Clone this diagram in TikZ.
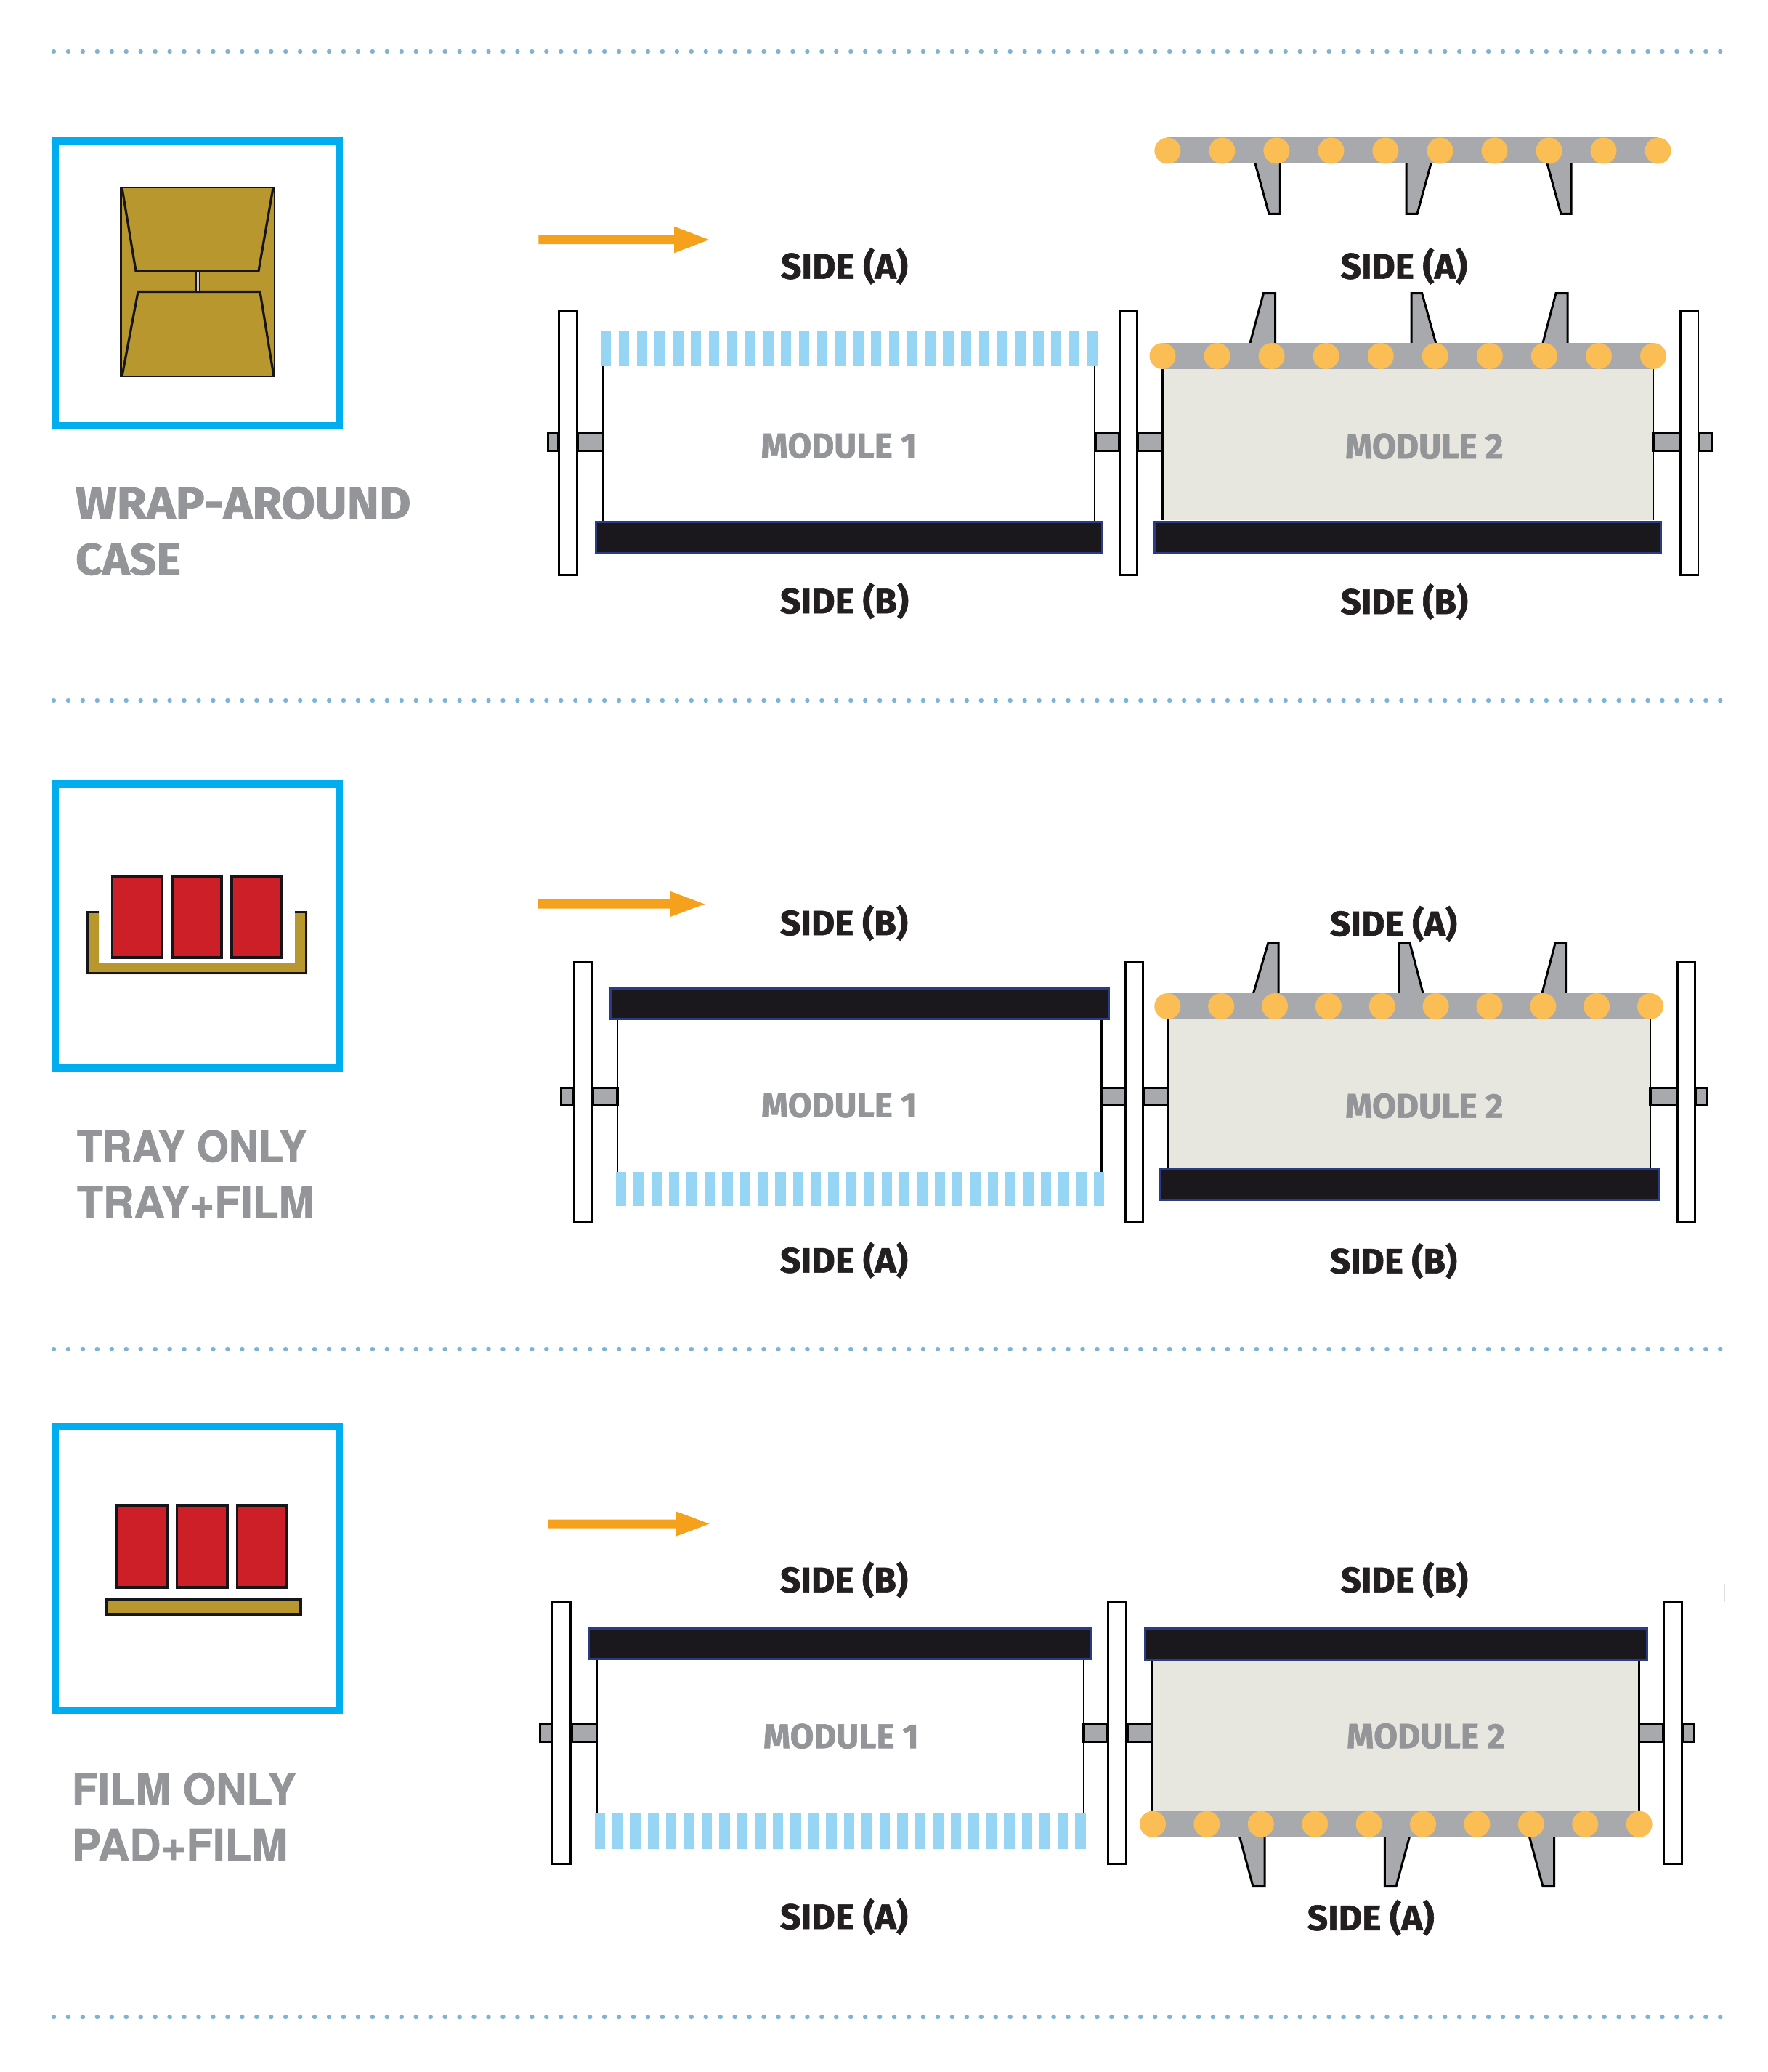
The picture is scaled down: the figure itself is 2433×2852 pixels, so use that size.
\documentclass[tikz,border=0pt]{standalone}
\usepackage{fontspec}
\usepackage{graphicx}
\newfontfamily\firaf{Fira Sans}[BoldFeatures={FakeBold=1.2}]
\newfontfamily\herosf{TeX Gyre Heros}[BoldFeatures={FakeBold=1.2}]
\definecolor{cbox}{HTML}{00AEEF}
\definecolor{cgold}{HTML}{B8972E}
\definecolor{cred}{HTML}{CC1F28}
\definecolor{cink}{HTML}{15151A}
\definecolor{cbar}{HTML}{A7A9AC}
\definecolor{cdisc}{HTML}{FABE55}
\definecolor{cmod}{HTML}{E7E6DF}
\definecolor{cfilm}{HTML}{96D5F3}
\definecolor{cbelt}{HTML}{1A181C}
\definecolor{cnavy}{HTML}{2A3C84}
\definecolor{cflow}{HTML}{F5A11C}
\definecolor{cgrey}{HTML}{939598}
\definecolor{cdark}{HTML}{231F20}
\definecolor{cdots}{HTML}{7FB3D5}
\tikzset{
  iconbox/.style={draw=cbox,line width=10pt,fill=white},
  platest/.style={draw=black,line width=2.8pt,fill=white},
  shaftst/.style={draw=black,line width=3.2pt,fill=cbar},
  beltst/.style={draw=cnavy,line width=3pt,fill=cbelt},
  sideline/.style={draw=black,line width=2.8pt},
  modfill/.style={fill=cmod},
  finline/.style={draw=black,line width=3pt,miter limit=10},
  redbox/.style={draw=cink,line width=3.6pt,fill=cred},
  goldfill/.style={fill=cgold},
  inkline/.style={draw=cink,line width=3.2pt},
  sidelabel/.style={inner sep=0pt,text=cdark,font=\firaf\bfseries},
  modlabel/.style={inner sep=0pt,text=cgrey,font=\firaf\bfseries},
  titlelabel/.style={inner sep=0pt,text=cgrey,font=\firaf\bfseries},
  heavylabel/.style={inner sep=0pt,text=cgrey,font=\herosf\bfseries},
}
\newcommand{\fitlabel}[7]{%
  \pgfmathsetmacro\fitW{#4-#2}\pgfmathsetmacro\fitH{#5-#3}%
  \node[#6] (#1) at ({(#2+#4)/2},{(#3+#5)/2}) {\resizebox*{\fitW pt}{\fitH pt}{#7}};}
% side label: name, x1, top of the brackets, x2, bottom of the brackets, letter
\newcommand{\sidefit}[6]{%
  \fitlabel{#1}{#2}{(#3+5.5)}{#4}{(#5-5)}{sidelabel}{SIDE \smash{(#6)}}}
% conveyor: first disc x, last disc x, centre y
\newcommand{\conveyor}[3]{%
  \fill[cbar] (#1,#3-18) rectangle (#2,#3+18);
  \foreach \i in {0,...,9}{\fill[cdisc] ({#1+\i*(#2-#1)/9},#3) circle (18pt);}}
% fin: base-left x, tip-left x, tip-right x, base-right x, base y, tip y
\newcommand{\finpoly}[6]{%
  \fill[cbar] (#1,#5)--(#2,#6)--(#3,#6)--(#4,#5)--cycle;
  \draw[finline] (#1,#5)--(#2,#6)--(#3,#6)--(#4,#5);}
% 28 film stripes: first x, pitch, top y, bottom y
\newcommand{\filmstripes}[4]{%
  \foreach \i in {0,...,27}{\fill[cfilm] ({#1+\i*#2},#3) rectangle ({#1+\i*#2+14.3},#4);}}
\newcommand{\flowarrow}[6]{% x1 xhead xtip yc halfline halfhead
  \fill[cflow] (#1,#4-#5)--(#2,#4-#5)--(#2,#4-#6)--(#3,#4)--(#2,#4+#6)--(#2,#4+#5)--(#1,#4+#5)--cycle;}
\newcommand{\dotrule}[1]{%
  \foreach \i in {0,...,115}{\fill[cdots] ({74+\i*19.95},#1) circle (3.2pt);}}
\begin{document}
\begin{tikzpicture}[x=1pt,y=-1pt]
\useasboundingbox (0,0) rectangle (2433,2852);
\fill[white] (0,0) rectangle (2433,2852);

\dotrule{71}\dotrule{964}\dotrule{1857}\dotrule{2776}
\draw[draw=black!12,line width=1pt] (2374,2180)--(2374,2205);

% ---------- icon boxes
\draw[iconbox] (76,194) rectangle (467,586);
\draw[iconbox] (76,1079) rectangle (467,1470);
\draw[iconbox] (76,1963) rectangle (467,2354);

% wrap-around case
\fill[goldfill] (165.5,258.5) rectangle (379,518);
\draw[inkline,line width=2.6pt] (166.5,258.5)--(166.5,518)--(378,518)--(378,258.5);
\draw[draw=cink,line width=1pt] (165.5,258.5)--(379,258.5);
\draw[inkline] (168,258.5)--(187,373)--(356,373)--(376,258.5);
\draw[inkline] (168,518)--(190,401.5)--(358,401.5)--(377,518);
\draw[inkline,line width=2.4pt,fill=black!20] (269.5,373) rectangle (275,401.5);

% tray icon
\fill[goldfill] (119,1254)--(136,1254)--(136,1326)--(406,1326)--(406,1254)--(423,1254)--(423,1341)--(119,1341)--cycle;
\draw[inkline,line width=3.4pt] (136,1255.7)--(120.7,1255.7)--(120.7,1339.3)--(421.3,1339.3)--(421.3,1255.7)--(406,1255.7);
\draw[redbox] (154.5,1205.8) rectangle (223.2,1318.2);
\draw[redbox] (236.8,1205.8) rectangle (305.2,1318.2);
\draw[redbox] (318.8,1205.8) rectangle (387.2,1318.2);

% pad icon
\draw[redbox] (160.8,2071.8) rectangle (229.9,2185.2);
\draw[redbox] (243.5,2071.8) rectangle (312.9,2185.2);
\draw[redbox] (326.5,2071.8) rectangle (395.2,2185.2);
\draw[inkline,line width=4pt,fill=cgold] (146,2202) rectangle (413.7,2221.6);

% ---------- icon titles
\fitlabel{t1a}{104}{670}{565.5}{715}{titlelabel}{WRAP-AROUND}
\fitlabel{t1b}{104}{747.5}{249}{792}{titlelabel}{CASE}
\fitlabel{t2a}{106}{1555.4}{422}{1600}{heavylabel}{TRAY ONLY}
\fitlabel{t2b}{106}{1632.4}{432.7}{1676.5}{heavylabel}{TRAY+FILM}
\fitlabel{t3a}{99}{2440}{407.7}{2484.5}{heavylabel}{FILM ONLY}
\fitlabel{t3b}{99}{2517}{396}{2561}{heavylabel}{PAD+FILM}

% ---------- ROW 1
\flowarrow{741.4}{928}{976}{330}{6.2}{18.3}
\sidefit{r1a}{1075}{343}{1250}{389.5}{A}
\sidefit{r1b}{1845.7}{343}{2020}{389.5}{A}
\sidefit{r1c}{1074}{804}{1251}{850}{B}
\sidefit{r1d}{1845.7}{805}{2021}{851}{B}
% top conveyor
\finpoly{1728}{1747}{1762.4}{1762.4}{225}{294.5}
\finpoly{1936}{1936}{1951}{1970}{225}{294.5}
\finpoly{2130}{2149}{2163}{2163}{225}{294.5}
\conveyor{1607.4}{2282.5}{207.5}
% module 1
\draw[sideline] (830.7,504)--(830.7,716.7);
\draw[sideline] (1507,504)--(1507,716.7);
\filmstripes{827}{24.8}{456}{504}
\draw[beltst] (820.5,718.2) rectangle (1517.5,761.2);
\fitlabel{r1m1}{1047.5}{596}{1262}{631}{modlabel}{MODULE 1}
% module 2
\fill[modfill] (1600.5,508) rectangle (2276,716.4);
\draw[sideline] (1600.5,508)--(1600.5,716.4);
\draw[sideline] (2276,508)--(2276,716.4);
\finpoly{1721}{1739.5}{1755.5}{1755.5}{472}{403.5}
\finpoly{1943}{1943}{1957.6}{1976.6}{472}{403.5}
\finpoly{2124}{2142}{2158}{2158}{472}{403.5}
\conveyor{1600.5}{2276}{490}
\draw[beltst] (1589.5,718) rectangle (2286.5,761.2);
\fitlabel{r1m2}{1852}{596.5}{2069.5}{632}{modlabel}{MODULE 2}
% shafts and plates
\foreach \a/\b in {754.6/769,795/830.7,1508.6/1541,1566/1600.5,2276/2313,2338/2356.4}
  {\draw[shaftst] (\a,596.6) rectangle (\b,620.4);}
\foreach \a/\b in {769.4/794.1,1541.4/1565.6,2313.4/2338}
  {\draw[platest] (\a,428.4) rectangle (\b,791.6);}

% ---------- ROW 2
\flowarrow{741}{923}{970}{1244.4}{6.2}{17.5}
\sidefit{r2a}{1074}{1247.5}{1250}{1293}{B}
\sidefit{r2b}{1831}{1248.6}{2006}{1294}{A}
\sidefit{r2c}{1074}{1711.7}{1250}{1757.5}{A}
\sidefit{r2d}{1831}{1712.8}{2006}{1758.5}{B}
% module 1
\draw[sideline] (850,1404)--(850,1612.5);
\draw[sideline] (1516.5,1404)--(1516.5,1612.5);
\filmstripes{848}{24.37}{1612.5}{1660}
\draw[beltst] (840.5,1360.5) rectangle (1526,1402.5);
\fitlabel{r2m1}{1048}{1504}{1262}{1538.5}{modlabel}{MODULE 1}
% module 2
\fill[modfill] (1607.3,1403) rectangle (2272,1608);
\draw[sideline] (1607.3,1403)--(1607.3,1608);
\draw[sideline] (2272,1403)--(2272,1608);
\finpoly{1725.6}{1745.7}{1760}{1760}{1367}{1298.3}
\finpoly{1926}{1926}{1941}{1959}{1367}{1298.3}
\finpoly{2123}{2141}{2155.6}{2155.6}{1367}{1298.3}
\conveyor{1607.3}{2272}{1385}
\draw[beltst] (1597.5,1609.5) rectangle (2283.2,1651.2);
\fitlabel{r2m2}{1852}{1505}{2069.5}{1539.5}{modlabel}{MODULE 2}
\foreach \a/\b in {772.6/790,816/850,1517/1549,1574/1607.3,2272/2309,2334/2350.4}
  {\draw[shaftst] (\a,1497.6) rectangle (\b,1520.4);}
\foreach \a/\b in {790/814.6,1549.4/1573.6,2309.1/2333.3}
  {\draw[platest] (\a,1323.9) rectangle (\b,1681.6);}

% ---------- ROW 3
\flowarrow{754}{931}{976.7}{2097.5}{6}{17}
\sidefit{r3a}{1074}{2151.5}{1250}{2197.5}{B}
\sidefit{r3b}{1845.7}{2151.5}{2021}{2197.5}{B}
\sidefit{r3c}{1074}{2615}{1250}{2661}{A}
\sidefit{r3d}{1799.7}{2616.7}{1974.7}{2662.5}{A}
% module 1
\draw[sideline] (821.5,2285)--(821.5,2496);
\draw[sideline] (1492,2285)--(1492,2496);
\filmstripes{818.7}{24.5}{2496}{2544.6}
\draw[beltst] (810.5,2241.5) rectangle (1501.5,2283.5);
\fitlabel{r3m1}{1050.8}{2372.5}{1264.7}{2407}{modlabel}{MODULE 1}
% module 2
\fill[modfill] (1586.7,2286) rectangle (2256.6,2492.7);
\draw[sideline] (1586.7,2286)--(1586.7,2492.7);
\draw[sideline] (2256.6,2286)--(2256.6,2492.7);
\draw[beltst] (1576.5,2241.5) rectangle (2267.5,2284.5);
\finpoly{1706.7}{1725}{1741}{1741}{2528.7}{2596.5}
\finpoly{1906.4}{1906.4}{1922}{1940.3}{2528.7}{2596.5}
\finpoly{2105.6}{2124}{2139.5}{2139.5}{2528.7}{2596.5}
\conveyor{1587}{2256.6}{2510.7}
\fitlabel{r3m2}{1854}{2372}{2072}{2407}{modlabel}{MODULE 2}
\foreach \a/\b in {743.6/760,787/821.5,1492/1525,1552/1586.7,2256.6/2290,2316/2332.4}
  {\draw[shaftst] (\a,2373.3) rectangle (\b,2397.4);}
\foreach \a/\b in {760.4/785.6,1525.4/1550.6,2290.4/2315.6}
  {\draw[platest] (\a,2204.9) rectangle (\b,2565.6);}
\end{tikzpicture}
\end{document}
